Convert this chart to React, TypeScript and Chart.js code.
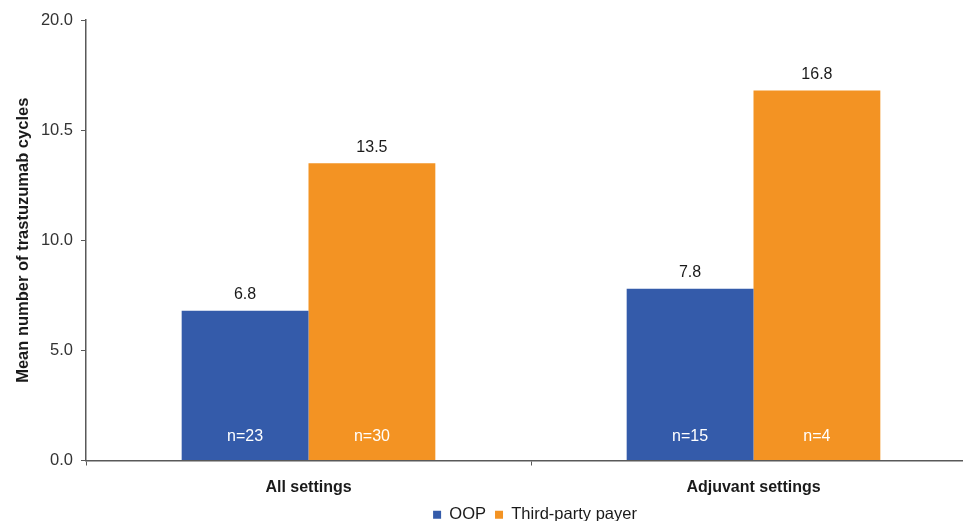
import React, { useEffect, useRef } from "react";
import { Chart, registerables } from "chart.js";

Chart.register(...registerables);

const CATEGORIES = ["All settings", "Adjuvant settings"];
const OOP_VALUES = [6.8, 7.8];
const TPP_VALUES = [13.5, 16.8];
const OOP_N = ["n=23", "n=15"];
const TPP_N = ["n=30", "n=4"];
const SERIES_NAMES = ["OOP", "Third-party payer"];
const Y_TICK_LABELS = ["0.0", "5.0", "10.0", "10.5", "20.0"];

const BLUE = "#345BAA";
const ORANGE = "#F39323";
const FONT = "'Liberation Sans', Arial, sans-serif";

const labelPlugin = {
  id: "barLabels",
  afterLayout(chart: any) {
    const lg = chart.legend;
    if (lg) {
      const shift = (chart.chartArea.left + chart.chartArea.right) / 2 + 4 - (lg.left + lg.right) / 2;
      lg.left += shift;
      lg.right += shift;
    }
  },
  afterDatasetsDraw(chart: any) {
    const { ctx, chartArea } = chart;
    const nLabels = [OOP_N, TPP_N];
    ctx.save();
    ctx.font = `16px ${FONT}`;
    ctx.textAlign = "center";
    ctx.textBaseline = "middle";
    chart.data.datasets.forEach((ds: any, di: number) => {
      const meta = chart.getDatasetMeta(di);
      meta.data.forEach((el: any, i: number) => {
        ctx.fillStyle = "#1a1a1a";
        ctx.fillText(ds.data[i].toFixed(1), el.x, el.y - 16);
        ctx.fillStyle = "#ffffff";
        ctx.fillText(nLabels[di][i], el.x, chartArea.bottom - 24);
      });
    });
    ctx.restore();
  },
};

export default function App() {
  const ref = useRef<HTMLCanvasElement>(null);
  useEffect(() => {
    if (!ref.current) return;
    const chart = new Chart(ref.current, {
      type: "bar",
      data: {
        labels: CATEGORIES,
        datasets: [
          { label: SERIES_NAMES[0], data: OOP_VALUES, backgroundColor: BLUE },
          { label: SERIES_NAMES[1], data: TPP_VALUES, backgroundColor: ORANGE },
        ],
      },
      options: {
        responsive: false,
        animation: false,
        layout: { padding: { top: 20, right: 0, left: 0, bottom: 0 } },
        datasets: { bar: { categoryPercentage: 0.57, barPercentage: 1 } },
        plugins: {
          tooltip: { enabled: false },
          legend: {
            position: "bottom",
            labels: {
              font: { family: FONT, size: 16.5 },
              color: "#1a1a1a",
              boxWidth: 8,
              boxHeight: 8,
              padding: 9,
            },
          },
        },
        scales: {
          x: {
            offset: true,
            grid: {
              offset: true,
              drawOnChartArea: false,
              drawTicks: true,
              tickLength: 5,
              color: "#595959",
            },
            border: { color: "#595959", width: 1.5 },
            ticks: {
              font: { family: FONT, size: 16, weight: "bold" },
              color: "#1a1a1a",
              padding: 12,
            },
            afterFit: (s: any) => {
              s.height = 37;
            },
          },
          y: {
            min: 0,
            max: 20,
            grid: {
              drawOnChartArea: false,
              drawTicks: true,
              tickLength: 5,
              color: "#595959",
            },
            border: { color: "#595959", width: 1.5 },
            ticks: {
              stepSize: 5,
              font: { family: FONT, size: 16.5 },
              color: "#333333",
              padding: 8,
              callback: (_v: any, i: number) => Y_TICK_LABELS[i],
            },
            title: {
              display: true,
              text: "Mean number of trastuzumab cycles",
              font: { family: FONT, size: 16.5, weight: "bold" },
              color: "#1a1a1a",
              padding: { top: 14, bottom: 0 },
            },
            afterFit: (s: any) => {
              s.width = 86;
            },
          },
        },
      },
      plugins: [labelPlugin],
    });
    return () => chart.destroy();
  }, []);
  return (
    <div
      style={{
        position: "fixed",
        left: 0,
        top: 0,
        width: 963,
        height: 521,
        overflow: "hidden",
        background: "#fff",
      }}
    >
      <canvas ref={ref} width={976} height={533} style={{ display: "block" }} />
    </div>
  );
}
